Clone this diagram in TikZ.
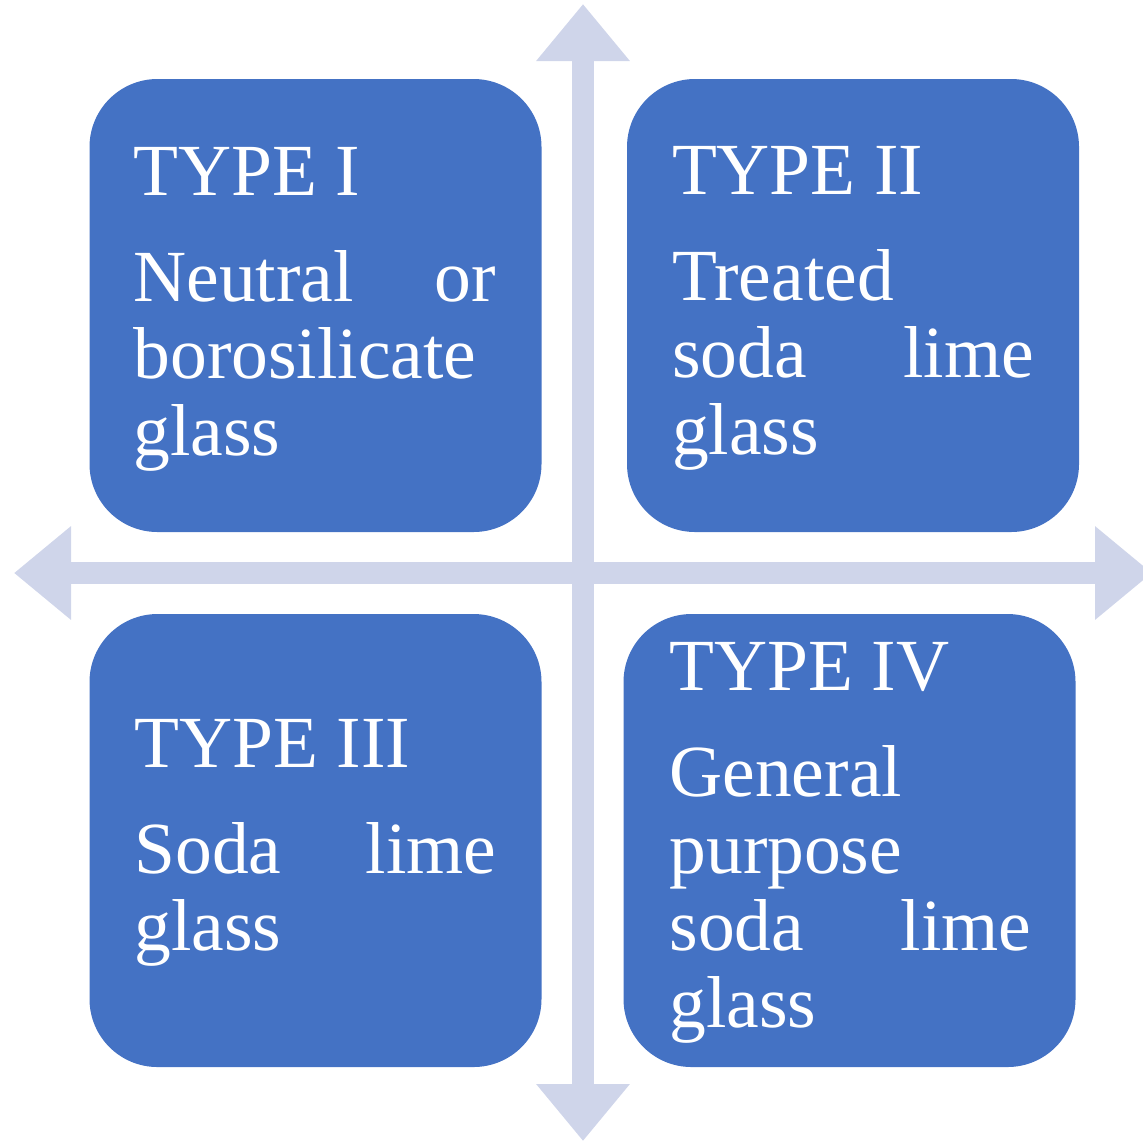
\documentclass[tikz,border=0pt]{standalone}
\usepackage{fontspec}
\setmainfont{Liberation Serif}
\usetikzlibrary{arrows.meta}

\definecolor{boxblue}{HTML}{4472C4}
\definecolor{axislav}{HTML}{CFD5EA}

\begin{document}
\begin{tikzpicture}[x=0.5pt, y=-0.5pt,
		card/.style={rectangle, rounded corners=34pt, fill=boxblue, draw=none,
			inner sep=0pt, minimum width=226pt, minimum height=226.5pt},
		cardtitle/.style={anchor=base west, inner sep=0pt, text=white,
			font=\fontsize{36.75}{38.5}\selectfont},
		cardtext/.style={anchor=base west, inner sep=0pt, text=white,
			text width=181pt, align=justify,
			font=\fontsize{36.75}{38.5}\selectfont},
		axisarrow/.style={line width=11pt, draw=axislav,
			>={Triangle[length=28.5pt,width=45pt]}, <->}]
		%\draw[help lines] (0,0) grid (1143,1142);
		\useasboundingbox (0,0) rectangle (1143,1142);
		
		\coordinate (axtop) at (583,4);
		\coordinate (axbot) at (583,1141);
		\coordinate (axleft) at (14,573);
		\coordinate (axright) at (1152,573);
		
		\draw[axisarrow] (axbot) -- (axtop);
		\draw[axisarrow] (axleft) -- (axright);
		
		\foreach \n/\x/\y in {1/315.5/305.5, 2/853/305.5,
			3/315.5/840.5, 4/849.5/840.5}
		\node[card] (box\n) at (\x,\y) {};
		
		\foreach \n/\dx/\dy/\s in {1/44/117/TYPE I, 2/45/116/TYPE II,
			3/45/154/TYPE III, 4/46/77/TYPE IV}
		\node[cardtitle] (title\n) at ([shift={(\dx,\dy)}]box\n.north west) {\s};
		
		\foreach \n/\s in {1/{Neutral or\linebreak borosilicate glass},
			2/{Treated\\ soda lime\linebreak glass},
			3/{Soda lime\linebreak glass},
			4/{General\\ purpose\\ soda lime\linebreak glass}}
		\node[cardtext] (text\n) at ([shift={(0,106)}]title\n.base west) {\s};
		
	\end{tikzpicture}
\end{document}
